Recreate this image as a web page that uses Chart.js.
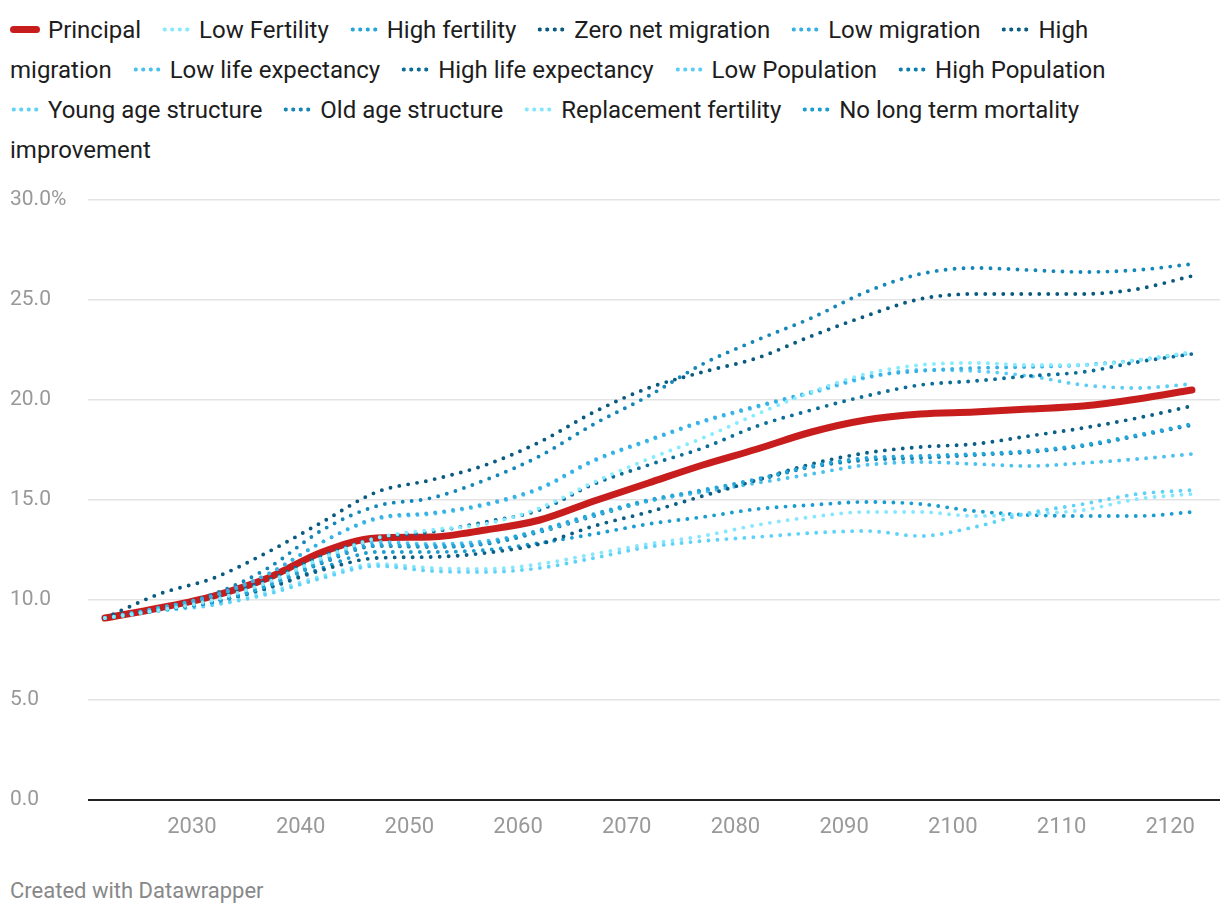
<!DOCTYPE html>
<html>
<head>
<meta charset="utf-8">
<script src="https://cdn.jsdelivr.net/npm/chart.js@4"></script>
<style>
  body { margin: 0; background: #fff; font-family: Roboto, sans-serif; }
  #legend { position: absolute; left: 10px; top: 10px; width: 1165px; font-size: 24px; line-height: 40px; color: #1d1d1d; }
  #legend .item { margin-right: 14px; }
  #legend .head { white-space: nowrap; }
  #legend .sym { display: inline-block; width: 30px; height: 5px; margin-right: 8px; vertical-align: middle; position: relative; top: -2px; }
  #legend .sym.solid { height: 7px; border-radius: 4px; }
  #wrap { position: absolute; left: 0; top: 180px; width: 1220px; height: 680px; }
  #footer { position: absolute; left: 10px; top: 878px; font-size: 22px; color: #888; }
</style>
</head>
<body>
<div id="legend"></div>
<div id="wrap"><canvas id="chart"></canvas></div>
<div id="footer">Created with Datawrapper</div>
<script>
const years = [2022, 2027, 2032, 2037, 2042, 2047, 2052, 2057, 2062, 2067, 2072, 2077, 2082, 2087, 2092, 2097, 2102, 2107, 2112, 2117, 2122];
const xTicks = [2030, 2040, 2050, 2060, 2070, 2080, 2090, 2100, 2110, 2120];
const yTicks = [0, 5, 10, 15, 20, 25, 30];

const principal = [9.1, 9.6, 10.2, 11.1, 12.4, 13.1, 13.15, 13.5, 14.0, 14.95, 15.85, 16.75, 17.55, 18.4, 19.0, 19.3, 19.4, 19.55, 19.7, 20.05, 20.5];
const lowFertility = [9.1, 9.5, 10.0, 10.9, 12.1, 13.1, 13.5, 13.8, 14.6, 15.9, 17.05, 18.1, 19.3, 20.4, 21.3, 21.75, 21.85, 21.75, 21.75, 22.0, 22.4];
const highFertility = [9.1, 9.5, 9.9, 10.7, 11.9, 12.75, 12.7, 12.85, 13.5, 14.3, 15.0, 15.5, 16.05, 16.7, 17.1, 17.2, 17.3, 17.45, 17.75, 18.25, 18.8];
const zeroNetMigration = [9.1, 10.3, 11.1, 12.4, 13.9, 15.4, 16.0, 16.75, 17.9, 19.4, 20.6, 21.4, 22.1, 23.2, 24.2, 25.05, 25.3, 25.3, 25.3, 25.55, 26.2];
const lowMigration = [9.1, 9.6, 10.2, 11.3, 12.9, 14.1, 14.35, 14.8, 15.6, 17.0, 18.0, 18.95, 19.7, 20.4, 21.15, 21.45, 21.6, 21.65, 21.75, 22.0, 22.35];
const highMigration = [9.1, 9.5, 9.9, 10.6, 11.5, 12.1, 12.15, 12.35, 12.8, 13.7, 14.4, 15.2, 16.0, 16.8, 17.35, 17.65, 17.8, 18.2, 18.6, 19.1, 19.7];
const lowLifeExpectancy = [9.1, 9.5, 9.95, 10.8, 12.0, 12.9, 12.8, 12.95, 13.45, 14.25, 14.95, 15.4, 15.85, 16.3, 16.75, 16.9, 16.8, 16.7, 16.85, 17.05, 17.3];
const highLifeExpectancy = [9.1, 9.55, 10.1, 11.0, 12.2, 13.1, 13.4, 13.9, 14.5, 15.8, 16.75, 17.6, 18.7, 19.5, 20.2, 20.75, 20.95, 21.2, 21.4, 21.9, 22.3];
const lowPopulation = [9.1, 9.6, 10.2, 11.3, 12.9, 14.05, 14.3, 14.75, 15.55, 16.95, 17.95, 18.9, 19.65, 20.35, 21.1, 21.5, 21.45, 21.2, 20.75, 20.6, 20.8];
const highPopulation = [9.1, 9.5, 9.9, 10.7, 11.85, 12.7, 12.65, 12.8, 13.4, 14.2, 14.95, 15.45, 16.0, 16.65, 17.0, 17.1, 17.25, 17.4, 17.7, 18.2, 18.75];
const youngAgeStructure = [9.1, 9.45, 9.75, 10.3, 11.1, 11.7, 11.45, 11.4, 11.6, 12.1, 12.65, 12.95, 13.15, 13.35, 13.45, 13.2, 13.65, 14.35, 14.8, 15.3, 15.5];
const oldAgeStructure = [9.1, 9.6, 10.3, 11.6, 13.5, 14.7, 15.1, 16.0, 17.2, 18.8, 20.2, 21.8, 23.0, 24.1, 25.4, 26.3, 26.6, 26.5, 26.4, 26.5, 26.8];
const replacementFertility = [9.1, 9.45, 9.8, 10.4, 11.2, 11.8, 11.6, 11.55, 11.8, 12.3, 12.8, 13.2, 13.75, 14.15, 14.4, 14.4, 14.2, 14.3, 14.5, 15.05, 15.3];
const noMortalityImprovement = [9.1, 9.5, 9.9, 10.6, 11.6, 12.4, 12.4, 12.5, 12.85, 13.3, 13.8, 14.15, 14.55, 14.75, 14.9, 14.8, 14.45, 14.25, 14.2, 14.2, 14.4];

const series = [
    { label: 'Principal', data: principal, color: '#c71e1d', solid: true },
    { label: 'Low Fertility', data: lowFertility, color: '#86ebff' },
    { label: 'High fertility', data: highFertility, color: '#25a6da' },
    { label: 'Zero net migration', data: zeroNetMigration, color: '#0a5a80' },
    { label: 'Low migration', data: lowMigration, color: '#38b0e4' },
    { label: 'High migration', data: highMigration, color: '#0b5e85' },
    { label: 'Low life expectancy', data: lowLifeExpectancy, color: '#4cc0ee' },
    { label: 'High life expectancy', data: highLifeExpectancy, color: '#0b6d98' },
    { label: 'Low Population', data: lowPopulation, color: '#5ccdf5' },
    { label: 'High Population', data: highPopulation, color: '#0d7fac' },
    { label: 'Young age structure', data: youngAgeStructure, color: '#5fd2f8' },
    { label: 'Old age structure', data: oldAgeStructure, color: '#1487b8' },
    { label: 'Replacement fertility', data: replacementFertility, color: '#86e6ff' },
    { label: 'No long term mortality improvement', data: noMortalityImprovement, color: '#1a9cd0' },
];

// html legend, wraps like the original (symbol stays with first word)
const legend = document.getElementById('legend');
series.forEach((s) => {
    const item = document.createElement('span');
    item.className = 'item';
    const head = document.createElement('span');
    head.className = 'head';
    const sym = document.createElement('span');
    sym.className = 'sym' + (s.solid ? ' solid' : '');
    if (s.solid) {
        sym.style.background = s.color;
    } else {
        sym.style.background = `radial-gradient(circle, ${s.color} 1.8px, transparent 2.3px) 0 0 / 7.5px 5px repeat-x`;
    }
    const words = s.label.split(' ');
    head.appendChild(sym);
    head.appendChild(document.createTextNode(words[0]));
    item.appendChild(head);
    if (words.length > 1) item.appendChild(document.createTextNode(' ' + words.slice(1).join(' ')));
    legend.appendChild(item);
    legend.appendChild(document.createTextNode(' '));
});

const datasets = series.map((s) => ({
    label: s.label,
    data: years.map((y, i) => ({ x: y, y: s.data[i] })),
    borderColor: s.color,
    backgroundColor: s.color,
    borderWidth: s.solid ? 7 : 3.9,
    borderDash: s.solid ? [] : [0, 9],
    borderCapStyle: 'round',
    borderJoinStyle: 'round',
    cubicInterpolationMode: 'monotone',
    pointRadius: 0,
    order: s.solid ? 1 : 0,
}));

new Chart(document.getElementById('chart'), {
    type: 'line',
    data: { datasets },
    options: {
        responsive: true,
        maintainAspectRatio: false,
        animation: false,
        layout: { padding: { left: 10, right: 0, top: 20, bottom: 0 } },
        plugins: { legend: { display: false }, tooltip: { enabled: false } },
        scales: {
            x: {
                type: 'linear',
                min: 2020.44,
                max: 2124.58,
                afterFit: (scale) => { scale.height = 60; },
                afterBuildTicks: (scale) => { scale.ticks = xTicks.map((v) => ({ value: v })); },
                grid: { display: false, drawTicks: false },
                border: { display: false },
                ticks: {
                    padding: 14,
                    color: '#999',
                    font: { family: 'Roboto', size: 22 },
                    callback: (v) => String(v),
                },
            },
            y: {
                min: 0,
                max: 30,
                afterFit: (scale) => { scale.width = 78; },
                afterBuildTicks: (scale) => { scale.ticks = yTicks.map((v) => ({ value: v })); },
                grid: {
                    drawTicks: false,
                    color: (ctx) => (ctx.tick && ctx.tick.value === 0 ? '#222' : '#e3e3e3'),
                    lineWidth: (ctx) => (ctx.tick && ctx.tick.value === 0 ? 2 : 1.5),
                },
                border: { display: false },
                ticks: {
                    crossAlign: 'far',
                    color: '#999',
                    font: { family: 'Roboto', size: 21 },
                    callback: (v) => (v === 30 ? '30.0%' : v.toFixed(1)),
                },
            },
        },
    },
});
</script>
</body>
</html>
